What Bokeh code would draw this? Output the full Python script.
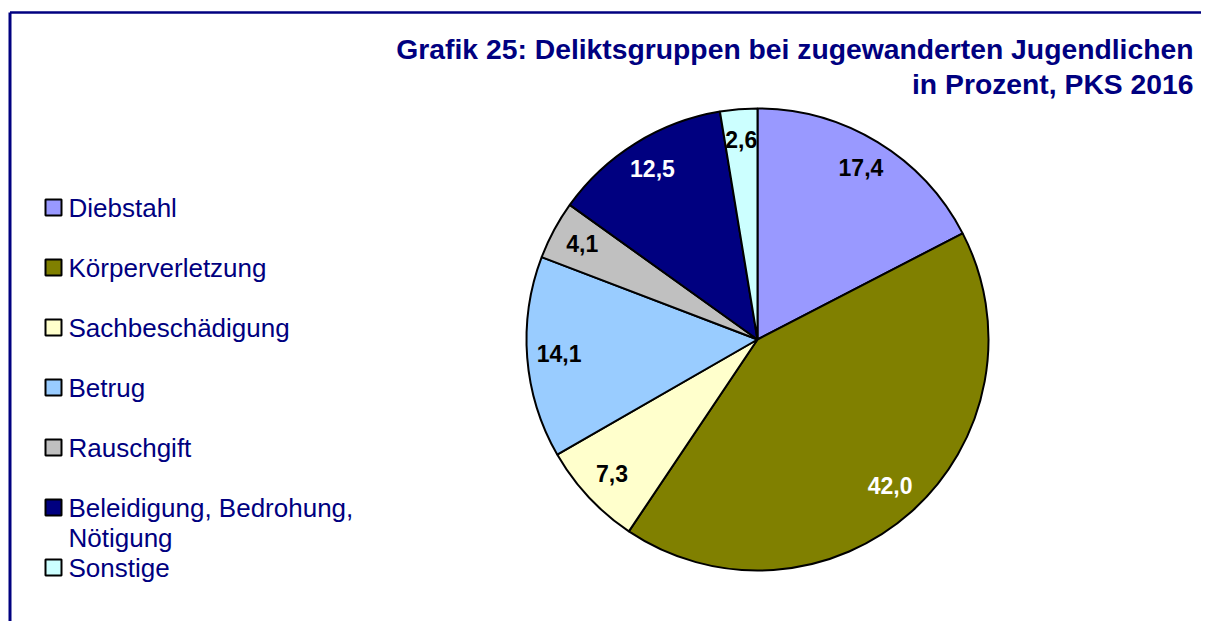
import math
from bokeh.plotting import figure
from bokeh.models import Range1d, ColumnDataSource
from bokeh.core.properties import value
from bokeh.embed import file_html
from bokeh.resources import INLINE

# ---- data ----
categories = ["Diebstahl", "Körperverletzung", "Sachbeschädigung", "Betrug",
              "Rauschgift", "Beleidigung, Bedrohung,\nNötigung", "Sonstige"]
values = [17.4, 42.0, 7.3, 14.1, 4.1, 12.5, 2.6]
value_labels = ["17,4", "42,0", "7,3", "14,1", "4,1", "12,5", "2,6"]
title_lines = ["Grafik 25: Deliktsgruppen bei zugewanderten Jugendlichen",
               "in Prozent, PKS 2016"]

# ---- styles ----
colors = ["#9999FF", "#808000", "#FFFFCC", "#99CCFF", "#C0C0C0", "#000080", "#CCFFFF"]
label_colors = ["black", "white", "black", "black", "black", "white", "black"]
NAVY = "#000080"
FONT = value("Liberation Sans")

W, H = 1201, 621
p = figure(width=W, height=H, output_backend="svg", toolbar_location=None,
           x_range=Range1d(0, W), y_range=Range1d(0, H), min_border=0,
           outline_line_color=None, background_fill_color="white")
p.axis.visible = False
p.grid.visible = False

def py(img_y):
    return H - img_y

def px(img_x):
    return img_x

# frame (partially visible)
p.line([px(9.5), px(9.5)], [py(12), -50], line_color=NAVY, line_width=3)
p.line([px(9.5), W + 50], [py(12), py(12)], line_color=NAVY, line_width=2.5)

# ---- pie ----
cx, cy, R = px(757), py(339), 231
total = sum(values)
starts, ends, lx, ly = [], [], [], []
cum = 0.0
for v in values:
    a0 = math.pi / 2 - 2 * math.pi * cum / total
    cum += v
    a1 = math.pi / 2 - 2 * math.pi * cum / total
    starts.append(a0)
    ends.append(a1)
    mid = (a0 + a1) / 2
    lx.append(cx + 199 * math.cos(mid))
    ly.append(cy + 199 * math.sin(mid) + 2)

src = ColumnDataSource(dict(start=starts, end=ends, color=colors,
                            lx=lx, ly=ly, lab=value_labels, lc=label_colors))
p.wedge(x=cx, y=cy, radius=R, start_angle="start", end_angle="end",
        direction="clock", fill_color="color", line_color="black",
        line_width=2, source=src)
p.text(x="lx", y="ly", text="lab", text_color="lc", source=src,
       text_font=FONT, text_font_style="bold", text_font_size="23px",
       text_align="center", text_baseline="middle")

# ---- title ----
for i, t in enumerate(title_lines):
    p.text(x=[px(1193)], y=[py(48 + 35 * i)], text=[t], text_color=NAVY,
           text_font=FONT, text_font_style="bold", text_font_size="28.3px",
           text_align="right", text_baseline="middle")

# ---- legend ----
for i, (cat, col) in enumerate(zip(categories, colors)):
    base = 216 + 60 * i
    p.rect(x=[px(53)], y=[py(base - 9)], width=16, height=16,
           width_units="screen", height_units="screen",
           fill_color=col, line_color="black", line_width=2)
    for j, line in enumerate(cat.split("\n")):
        p.text(x=[px(68)], y=[py(base - 9 + 30 * j)], text=[line], text_color=NAVY,
               text_font=FONT, text_font_size="26px",
               text_align="left", text_baseline="middle")

open("out.html", "w").write(file_html(p, INLINE))
